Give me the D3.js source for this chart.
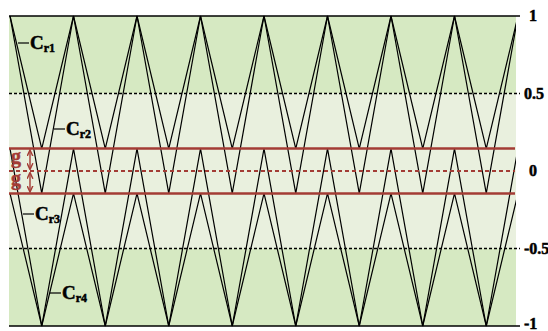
<!DOCTYPE html>
<html>
<head>
<meta charset="utf-8">
<script src="https://cdn.jsdelivr.net/npm/d3@7"></script>
<style>
  body { margin: 0; background: #fff; }
</style>
</head>
<body>
<div id="chart"></div>
<script>
// carrier settings
const gap = 0.145;
const peakTimes = [0, 1, 2, 3, 4, 5, 6, 7, 8];
const valleyTimes = [0.5, 1.5, 2.5, 3.5, 4.5, 5.5, 6.5, 7.5];
const carriers = [
  { name: "r1", top: 1, bottom: gap },
  { name: "r2", top: 1, bottom: -gap },
  { name: "r3", top: gap, bottom: -1 },
  { name: "r4", top: -gap, bottom: -1 }
];
const tickValues = [1, 0.5, 0, -0.5, -1];
const tickLabels = ["1", "0.5", "0", "-0.5", "-1"];
const bands = [[0.5, 1, "#d6e9c2"], [-0.5, 0.5, "#e9f0de"], [-1, -0.5, "#d6e9c2"]];

const W = 548, H = 331;
const x = d3.scaleLinear().domain([0, 8]).range([10, 518]);
const y = d3.scaleLinear().domain([-1, 1]).range([326, 16]);
const left = 9, right = 516;
const brown = "#a33c35";
const serif = "'Liberation Serif', 'Times New Roman', serif";

const svg = d3.select("#chart").append("svg")
  .attr("width", W).attr("height", H)
  .attr("font-family", serif).attr("font-weight", "bold");

svg.append("clipPath").attr("id", "clip")
  .append("rect").attr("x", left).attr("y", 0)
  .attr("width", right - left).attr("height", H);

// background bands
svg.selectAll("rect.band").data(bands).join("rect")
  .attr("class", "band")
  .attr("x", left).attr("width", right - left)
  .attr("y", d => y(d[1])).attr("height", d => y(d[0]) - y(d[1]))
  .attr("fill", d => d[2]);

// triangular carriers
const line = d3.line().x(d => x(d[0])).y(d => y(d[1]));
const carrierPts = c => {
  const pts = [];
  peakTimes.forEach(t => pts.push([t, c.top]));
  valleyTimes.forEach(t => pts.push([t, c.bottom]));
  return pts.sort((a, b) => a[0] - b[0]);
};
svg.append("g").attr("clip-path", "url(#clip)")
  .selectAll("path").data(carriers).join("path")
  .attr("d", d => line(carrierPts(d)))
  .attr("fill", "none").attr("stroke", "#000").attr("stroke-width", 1.2);

// horizontal reference lines
svg.selectAll("line.lim").data([1, -1]).join("line")
  .attr("x1", left).attr("x2", 520)
  .attr("y1", d => y(d)).attr("y2", d => y(d))
  .attr("stroke", "#000").attr("stroke-width", 1.6);
svg.selectAll("line.half").data([0.5, -0.5]).join("line")
  .attr("x1", left).attr("x2", 520)
  .attr("y1", d => y(d)).attr("y2", d => y(d))
  .attr("stroke", "#000").attr("stroke-width", 1.3)
  .attr("stroke-dasharray", "3,2");
svg.selectAll("line.gap").data([gap, -gap]).join("line")
  .attr("x1", left).attr("x2", right - 1)
  .attr("y1", d => y(d)).attr("y2", d => y(d))
  .attr("stroke", brown).attr("stroke-width", 2.5);
svg.append("line")
  .attr("x1", left).attr("x2", right - 1)
  .attr("y1", y(0)).attr("y2", y(0))
  .attr("stroke", brown).attr("stroke-width", 2)
  .attr("stroke-dasharray", "4,3");

// tick labels on the right
svg.selectAll("text.tick").data(tickValues).join("text")
  .attr("x", (d, i) => i === 0 || i === 2 ? 529 : 524)
  .attr("y", (d, i) => i === 4 ? y(d) + 3 : y(d) + 5)
  .style("font-size", "16px")
  .attr("stroke", "#000").attr("stroke-width", 0.5)
  .text((d, i) => tickLabels[i]);

// gap markers
svg.append("defs").append("marker")
  .attr("id", "arr").attr("viewBox", "0 0 6 6")
  .attr("refX", 5).attr("refY", 3)
  .attr("markerWidth", 5).attr("markerHeight", 5)
  .attr("orient", "auto-start-reverse")
  .append("path").attr("d", "M0,0.5 L5.5,3 L0,5.5").attr("fill", "none")
  .attr("stroke", brown).attr("stroke-width", 1.2);
[[gap, 0], [0, -gap]].forEach(([a, b]) => {
  svg.append("line")
    .attr("x1", 30).attr("x2", 30)
    .attr("y1", y(a) + 2).attr("y2", y(b) - 2)
    .attr("stroke", brown).attr("stroke-width", 1.4)
    .attr("marker-start", "url(#arr)").attr("marker-end", "url(#arr)");
  svg.append("text")
    .attr("x", 11).attr("y", (y(a) + y(b)) / 2 + 3)
    .attr("fill", brown).style("font-size", "20px")
    .attr("stroke", brown).attr("stroke-width", 0.5)
    .text("g");
});

// carrier labels
const labelPos = [
  { x1: 18, y: 43 },
  { x1: 54, y: 129 },
  { x1: 23, y: 214 },
  { x1: 50, y: 293 }
];
carriers.forEach((c, i) => {
  const p = labelPos[i];
  svg.append("line")
    .attr("x1", p.x1).attr("x2", p.x1 + 11)
    .attr("y1", p.y).attr("y2", p.y)
    .attr("stroke", "#000").attr("stroke-width", 1.2);
  const t = svg.append("text")
    .attr("x", p.x1 + 12).attr("y", p.y + 6)
    .style("font-size", "19px")
    .attr("stroke", "#000").attr("stroke-width", 0.5);
  t.append("tspan").text("C");
  t.append("tspan").attr("dy", 3).style("font-size", "12px").text(c.name);
});
</script>
</body>
</html>
